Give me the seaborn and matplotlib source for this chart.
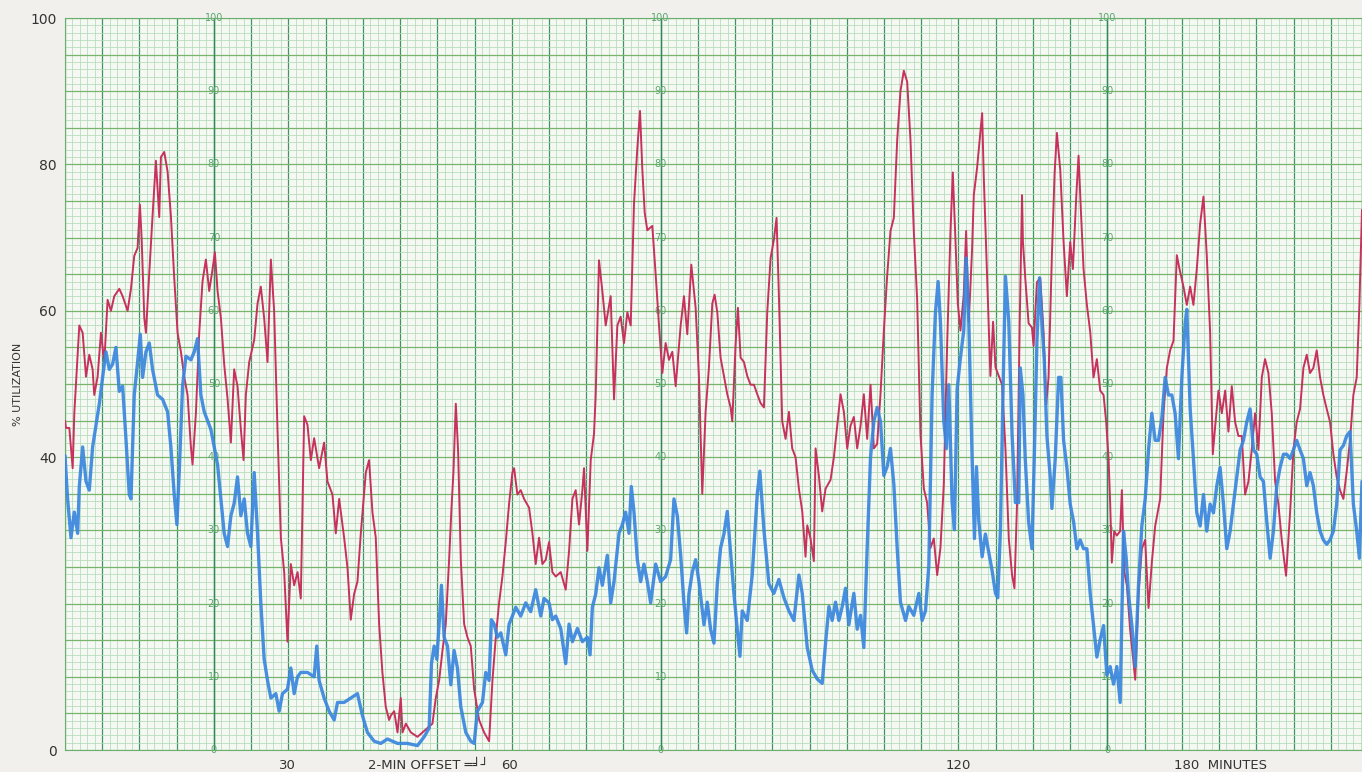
import numpy as np
import pandas as pd
import seaborn as sns
import matplotlib.pyplot as plt
from matplotlib.ticker import MultipleLocator, FuncFormatter

# Strip chart: two recorder pens, % utilization vs minutes
red_min = [
    0.0, 0.13, 0.58, 1.03, 1.25, 1.92, 2.37, 2.82, 3.26, 3.71,
    3.93, 4.38, 4.83, 5.28, 5.72, 6.17, 6.62, 7.29, 7.74, 8.41,
    8.86, 9.30, 9.75, 10.06, 10.29, 10.65, 10.87, 11.18, 11.76, 12.21,
    12.66, 12.88, 13.33, 13.78, 14.22, 14.67, 15.12, 15.57, 16.01, 16.46,
    16.91, 17.13, 17.58, 18.03, 18.47, 18.92, 19.37, 19.82, 20.13, 20.49,
    20.94, 21.38, 21.83, 22.28, 22.72, 23.17, 23.62, 23.98, 24.29, 24.74,
    25.41, 25.86, 26.30, 26.75, 27.20, 27.65, 28.09, 28.54, 28.99, 29.44,
    29.88, 30.33, 30.78, 31.23, 31.67, 32.12, 32.57, 33.02, 33.46, 34.13,
    34.80, 35.25, 35.92, 36.37, 36.82, 37.49, 37.94, 38.38, 38.83, 39.28,
    39.73, 40.40, 40.84, 41.29, 41.74, 42.19, 42.63, 43.08, 43.53, 43.76,
    44.21, 44.66, 45.10, 45.33, 45.78, 46.45, 47.34, 48.01, 48.68, 49.35,
    49.80, 50.25, 50.70, 51.14, 51.59, 51.91, 52.17, 52.49, 52.80, 53.16,
    53.61, 54.05, 54.50, 54.95, 55.62, 56.29, 56.96, 57.41, 57.86, 58.30,
    58.75, 59.20, 59.65, 60.09, 60.32, 60.76, 61.21, 61.66, 62.33, 62.78,
    63.22, 63.67, 64.12, 64.57, 65.01, 65.46, 65.91, 66.58, 67.25, 67.70,
    68.15, 68.59, 69.04, 69.49, 69.71, 70.16, 70.61, 71.05, 71.28, 71.50,
    71.72, 72.17, 72.62, 73.29, 73.74, 74.19, 74.63, 75.08, 75.53, 75.98,
    76.42, 76.87, 77.23, 77.54, 77.86, 78.21, 78.88, 79.33, 79.78, 80.23,
    80.67, 81.12, 81.57, 82.02, 82.69, 83.13, 83.58, 84.12, 84.70, 85.15,
    85.59, 86.04, 86.49, 86.94, 87.25, 87.61, 88.05, 88.50, 88.95, 89.40,
    89.62, 90.07, 90.38, 90.74, 91.19, 91.63, 92.08, 92.53, 92.98, 93.42,
    93.87, 94.32, 94.77, 95.21, 95.57, 95.88, 96.33, 96.78, 97.23, 97.67,
    98.12, 98.57, 99.02, 99.46, 99.69, 100.13, 100.58, 100.81, 101.25, 101.70,
    102.15, 102.82, 103.27, 103.71, 104.16, 104.61, 105.06, 105.50, 105.95, 106.40,
    106.85, 107.29, 107.74, 108.19, 108.64, 109.08, 109.53, 109.98, 110.42, 110.87,
    111.32, 111.77, 112.21, 112.66, 113.11, 113.56, 114.00, 114.45, 114.90, 115.35,
    115.79, 116.24, 116.69, 117.14, 117.58, 118.03, 118.48, 118.93, 119.24, 119.60,
    119.91, 120.27, 120.71, 121.03, 121.39, 121.83, 122.06, 122.50, 122.95, 123.18,
    123.40, 123.85, 124.29, 124.65, 124.97, 125.41, 125.86, 126.31, 126.76, 127.20,
    127.52, 127.87, 128.23, 128.54,
    128.66, 128.97, 129.42, 129.87, 130.09, 130.54, 130.98, 131.43, 131.79, 132.10,
    132.55, 132.91, 133.22, 133.67, 134.12, 134.56, 135.01, 135.37, 135.82, 136.13,
    136.44, 136.80, 137.25, 137.70, 138.14, 138.59, 139.04, 139.49, 139.84, 140.16,
    140.38, 140.60, 140.92, 141.27, 141.72, 141.95, 142.26, 142.62, 143.06, 143.51,
    143.74, 144.18, 144.63, 145.08, 145.53, 145.97, 146.42, 147.09, 147.54, 147.99,
    148.43, 148.88, 149.33, 149.69, 150.22, 150.67, 151.12, 151.56, 152.01, 152.46,
    152.91, 153.35, 153.80, 154.16, 154.47, 154.92, 155.37, 155.82, 156.26, 156.71,
    157.16, 157.60, 158.05, 158.50, 158.95, 159.39, 159.84, 160.29, 160.74, 161.18,
    161.63, 162.08, 162.53, 162.97, 163.42, 164.00, 164.54, 164.99, 165.43, 165.88,
    166.33, 166.78, 167.22, 167.67, 168.12, 168.57, 169.01, 169.46, 169.91, 170.36,
    170.80, 171.25, 171.70, 172.14, 172.59, 173.04, 173.49, 173.85, 174.20,
]
red_util = [
    45, 44, 44, 38.5, 46, 58, 57, 51, 54, 52,
    48.5, 51, 57, 53, 61.5, 60, 62, 63, 62, 60,
    63, 67.5, 68.6, 74.5, 70, 59, 57, 62.7, 73, 80.5,
    72.8, 81, 81.7, 79, 73, 64.5, 57, 54.4, 51, 48.5,
    41.4, 39, 46, 57, 64, 67, 62.7, 65.7, 68, 62.7,
    59, 52.7, 48, 42, 52, 49.7, 43.8, 39.6, 48.5, 53,
    56, 61, 63.3, 59, 53, 67, 60, 43.8, 29, 24.3,
    14.8, 25.4, 22.5, 24.3, 20.7, 45.6, 44.4, 39.6, 42.6, 38.5,
    42, 36.7, 34.9, 29.6, 34.3, 29, 24.9, 17.8, 21.3, 23,
    29.6, 37.9, 39.6, 32.5, 29, 17.2, 10.6, 5.9, 4.1, 4.7,
    5.3, 2.4, 7.1, 2.4, 3.6, 2.4, 1.8, 2.4, 3, 3.6,
    7.1, 9.5, 13.6, 17.2, 26, 33.1, 37.9, 47.3, 40.8, 26,
    17.2, 15.4, 14.2, 8.3, 4.1, 2.4, 1.2, 9.5, 15.4, 20.1,
    23.7, 28.4, 33.7, 37.9, 38.5, 34.9, 35.5, 34.3, 33.1, 29.6,
    25.4, 29, 25.4, 26, 28.4, 24.3, 23.7, 24.3, 21.9, 27.2,
    34.3, 35.5, 30.8, 35.5, 38.5, 27.2, 39.6, 43.2, 48.5, 58,
    66.9, 62.7, 58, 62, 47.9, 58, 59.2, 55.6, 59.8, 58,
    74.6, 82.2, 87.3, 79.3, 73.4, 71, 71.6, 65, 58, 51.5,
    55.6, 53.3, 54.4, 49.7, 58, 62, 56.8, 66.3, 60.4, 50.9,
    35, 46.2, 52.3, 61, 62.2, 59.8, 53.6, 51.1, 48.6, 46.8,
    44.9, 55.4, 60.4, 53.6, 53, 51.1, 49.9, 49.9, 48.6, 47.4,
    46.8, 59.8, 67.2, 69.7, 72.7, 62.2, 44.9, 42.5, 46.2, 41.2,
    40, 35.7, 32.6, 26.4, 30.7, 28.9, 25.8, 41.2, 37.5, 32.6,
    35.7, 36.9, 40, 44.3, 48.6, 46.2, 41.2, 44.3, 45.5, 41.2,
    44.3, 48.6, 42.5, 49.9, 41.2, 41.8, 48.6, 57.3, 64.7, 70.9,
    72.7, 83.3, 90, 92.8, 91.3, 83.3, 70.9, 61.6, 43.1, 35.7,
    33.8, 27.6, 28.9, 23.9, 27.6, 36.3, 55.4, 70.9, 78.9, 69.6,
    61, 57.3, 62.2, 70.9, 58.5, 68.4, 75.8, 79.5, 84.5, 87,
    78.3, 64.7, 51.1, 58.5, 52.3, 51.1, 49.9, 41.2, 28.9, 23.9,
    22.1, 33.8, 58.5, 75.8,
    69.4, 64.5, 58.3, 57.7, 55.2, 63.9, 64.5, 57.1, 47.2, 50.9,
    67.6, 78.7, 84.3, 79.3, 69.4, 62, 69.4, 65.7, 75.6, 81.2,
    73.8, 65.7, 60.8, 57.1, 50.9, 53.4, 49.1, 48.5, 44.8, 39.8,
    33.6, 25.6, 29.9, 29.3, 29.9, 35.5, 24.4, 22.5, 16.4, 12,
    9.6, 21.3, 27.5, 28.7, 19.4, 25.6, 30.6, 34.3, 46, 52.2,
    54.6, 55.9, 67.6, 65.7, 63.3, 60.8, 63.3, 60.8, 65.7, 71.9,
    75.6, 67.6, 57.1, 40.4, 44.1, 49.1, 46, 49.1, 43.5, 49.7,
    44.8, 42.9, 42.9, 34.9, 36.7, 41, 46, 41, 50.9, 53.4,
    51.5, 46, 36.7, 33.6, 28.7, 23.8, 32.4, 41, 44.8, 46.6,
    52.2, 54, 51.5, 52.2, 54.6, 50.9, 48.5, 46.6, 44.8, 40.4,
    37.3, 35.5, 34.3, 38, 42.3, 48.5, 50.9, 60.8, 73.8,
]

blue_min = [
    0.0, 0.35, 0.80, 1.25, 1.70, 1.92, 2.37, 2.82, 3.26, 3.71,
    4.16, 4.61, 5.05, 5.50, 5.95, 6.39, 6.84, 7.29, 7.74, 8.18,
    8.63, 8.86, 9.30, 9.75, 10.11, 10.42, 10.87, 11.32, 11.76, 12.43,
    13.11, 13.78, 14.22, 14.67, 15.03, 15.34, 15.79, 16.24, 16.91, 17.36,
    17.80, 18.25, 18.70, 19.15, 19.59, 20.04, 20.49, 20.94, 21.38, 21.83,
    22.28, 22.72, 23.17, 23.62, 24.07, 24.51, 24.96, 25.41, 25.86, 26.30,
    26.75, 27.20, 27.65, 28.32, 28.76, 29.21, 29.88, 30.33, 30.78, 31.23,
    31.67, 32.57, 33.46, 33.82, 34.13, 34.80, 35.48, 36.15, 36.60, 37.49,
    38.38, 39.28, 39.95, 40.62, 41.52, 42.41, 43.30,
    44.66, 46.00, 47.34, 48.24, 48.91, 49.22, 49.58, 49.94, 50.25, 50.56,
    50.92, 51.37, 51.82, 52.26, 52.71, 53.16, 53.83, 54.50, 54.95, 55.39,
    56.07, 56.51, 56.96, 57.27, 57.63, 58.08, 58.53, 59.20, 59.65, 60.09,
    60.54, 61.21, 61.88, 62.55, 63.22, 63.90, 64.34, 65.01, 65.46, 65.91,
    66.58, 67.25, 67.70, 68.15, 68.82, 69.49, 70.16, 70.52, 70.83, 71.28,
    71.72, 72.17, 72.84, 73.29, 73.74, 74.41, 74.86, 75.30, 75.75, 76.06,
    76.42, 76.87, 77.32, 77.76, 78.21, 78.66, 79.33, 80.00, 80.67, 81.34,
    81.79, 82.24, 82.69, 83.13, 83.49, 83.80, 84.25, 84.70, 85.15,
    85.82, 86.26, 86.71, 87.16, 87.61, 88.05, 88.50, 88.95, 89.40, 89.84,
    90.29, 90.65, 90.96, 91.63, 92.30, 92.98, 93.33, 93.87, 94.54, 95.21,
    95.88, 96.56, 97.23, 97.90, 98.57, 99.02, 99.69, 100.36, 101.03, 101.70,
    102.15, 102.60, 103.04, 103.49, 103.94, 104.39, 104.83, 105.28, 105.95, 106.40,
    106.85, 107.29, 107.74, 108.19, 108.64, 109.08, 109.53, 109.98, 110.42, 110.87,
    111.32, 111.77, 112.21, 112.89, 113.33, 114.00, 114.68, 115.12, 115.57, 116.02,
    116.46, 116.91, 117.27, 117.58, 118.03, 118.39, 118.70, 119.15, 119.46, 119.82,
    120.27, 120.71, 121.03, 121.39, 121.83, 122.15, 122.42, 122.73, 123.18, 123.62,
    124.07, 124.52, 124.97, 125.28, 125.64, 125.99, 126.31, 126.76, 127.20, 127.65,
    128.10, 128.30,
    128.66, 128.97, 129.42, 129.87, 130.18, 130.54, 130.89, 131.21, 131.52, 131.88,
    132.33, 132.55, 133.00, 133.45, 133.76, 134.12, 134.56, 135.01, 135.46, 135.91,
    136.35, 136.80, 137.25, 137.70, 138.14, 138.59, 139.04, 139.49, 139.93, 140.38,
    140.83, 141.27, 141.72, 142.17, 142.53, 142.84, 143.29, 143.74, 144.18, 144.63,
    145.08, 145.53, 145.97, 146.42, 146.87, 147.32, 147.76, 148.21, 148.66, 149.10,
    149.55, 150.00, 150.45, 150.67, 151.12, 151.56, 152.01, 152.46, 152.91, 153.35,
    153.80, 154.25, 154.70, 155.14, 155.59, 156.04, 156.49, 156.93, 157.38, 157.83,
    158.28, 158.72, 159.17, 159.62, 160.07, 160.51, 160.96, 161.41, 161.86, 162.30,
    162.75, 163.20, 163.65, 164.09, 164.54, 164.99, 165.43, 165.88, 166.33, 166.78,
    167.22, 167.67, 168.12, 168.57, 169.01, 169.46, 169.91, 170.36, 170.80, 171.25,
    171.70, 172.14, 172.59, 173.04, 173.49, 173.85, 174.20,
]
blue_util = [
    40.2, 34.3, 29, 32.5, 29.6, 36, 41.4, 36.7, 35.5, 41.4,
    44.4, 47.3, 50.9, 54.4, 52, 52.7, 55, 49, 49.7, 42.6,
    34.9, 34.3, 48.5, 53, 56.8, 50.9, 54.4, 55.6, 52, 48.5,
    47.9, 46.2, 41.4, 34.9, 30.8, 37.9, 49.7, 53.8, 53.3, 54.4,
    56.2, 48.5, 46.2, 45, 43.8, 41.4, 39, 34.3, 29.6, 27.8,
    32, 33.7, 37.3, 32, 34.3, 29.6, 27.8, 37.9, 29.6, 20.1,
    12.4, 9.5, 7.1, 7.7, 5.3, 7.7, 8.3, 11.2, 7.7, 10,
    10.6, 10.6, 10, 14.2, 9.5, 7.1, 5.3, 4.1, 6.5, 6.5,
    7.1, 7.7, 4.7, 2.4, 1.2, 0.9, 1.5,
    0.9, 0.9, 0.6, 1.8, 3, 11.8, 14.2, 12.4, 17.2, 22.5,
    15.4, 14.2, 8.9, 13.6, 11.2, 5.9, 2.4, 1.2, 0.9, 5.3,
    6.5, 10.6, 9.5, 17.8, 17.2, 15.4, 16, 13, 17.2, 18.3,
    19.5, 18.3, 20.1, 18.9, 21.9, 18.3, 20.7, 20.1, 17.8, 18.3,
    16.6, 11.8, 17.2, 14.8, 16.6, 14.8, 15.4, 13, 19.5, 21.3,
    24.9, 22.5, 26.6, 20.1, 23, 29.6, 30.8, 32.5, 29.6, 36,
    32.5, 26, 23, 25.4, 23, 20.1, 25.4, 23, 23.7, 26,
    34.3, 32, 26.6, 20.1, 16, 21.3, 24.3, 26, 23,
    17.1, 20.2, 16.5, 14.6, 22.7, 27.6, 29.5, 32.6, 27, 21.4,
    16.5, 12.8, 19, 17.7, 23.9, 35, 38.1, 30.1, 22.7, 21.4,
    23.3, 20.8, 19, 17.7, 23.9, 21.4, 14, 10.9, 9.7, 9.1,
    14.6, 19.6, 17.7, 20.2, 17.7, 19.6, 22.1, 17.1, 21.4, 16.5,
    18.4, 14, 27.6, 40, 44.9, 46.8, 44.9, 37.5, 38.7, 41.2,
    36.3, 27.6, 20.2, 17.7, 19.6, 18.4, 21.4, 17.7, 19, 25.2,
    48.6, 59.8, 64, 58.5, 44.9, 41.2, 49.9, 33.8, 30.1, 49.3,
    53.6, 57.3, 67.2, 58.5, 40, 28.9, 38.7, 31.3, 26.4, 29.5,
    27, 24.5, 21.4, 20.8, 30.1, 49.3, 64.7, 58.5, 43.1, 33.8,
    33.8, 52.2,
    48.5, 39.8, 31.2, 27.5, 39.8, 55.9, 64.5, 58.3, 53.4, 42.9,
    37.3, 33, 39.8, 50.9, 50.9, 42.3, 38.6, 33.6, 31.2, 27.5,
    28.7, 27.5, 27.5, 21.3, 17, 12.7, 15.1, 17, 10.2, 11.4,
    9, 11.4, 6.5, 29.9, 26.2, 21.3, 17, 11.4, 22.5, 30.6,
    34.3, 41, 46, 42.3, 42.3, 45.4, 50.9, 48.5, 48.5, 46,
    39.8, 50.9, 58.3, 60.2, 46.6, 39.8, 32.4, 30.6, 34.9, 29.9,
    33.6, 32.4, 36.1, 38.6, 33.6, 27.5, 29.9, 33.6, 37.3, 41,
    42.3, 44.8, 46.6, 41, 40.4, 37.3, 36.7, 31.2, 26.2, 29.9,
    36.1, 38.6, 40.4, 40.4, 39.8, 41, 42.3, 41, 39.8, 36.1,
    37.9, 36.1, 32.4, 29.9, 28.7, 28.1, 28.7, 29.9, 33.6, 41,
    41.6, 42.9, 43.5, 33.6, 29.9, 26.2, 36.7,
]

ytick_labels = {0: "0", 40: "40", 60: "60", 80: "80", 100: "100"}
scale_minutes = [20, 80, 140]          # where the printed paper scale repeats
scale_values = list(range(0, 101, 10))

sns.set_theme(style="white")
plt.rcParams["font.family"] = ["DejaVu Sans"]

fig = plt.figure(figsize=(13.62, 7.72), dpi=100, facecolor="#f1f0ec")
ax = fig.add_axes([65 / 1362, 22 / 772, 1297 / 1362, 732 / 772])
ax.set_facecolor("#f6f9f3")

red_df = pd.DataFrame({"minute": red_min, "util": red_util})
blue_df = pd.DataFrame({"minute": blue_min, "util": blue_util})

sns.lineplot(data=red_df, x="minute", y="util", ax=ax, color="#c7315d",
             lw=1.4, estimator=None, sort=False, zorder=4)
sns.lineplot(data=blue_df, x="minute", y="util", ax=ax, color="#3a86df",
             lw=2.4, alpha=0.92, estimator=None, sort=False, zorder=5)

ax.set_xlim(0, 174.2)
ax.set_ylim(0, 100)

# chart paper grid
ax.xaxis.set_major_locator(MultipleLocator(5))
ax.xaxis.set_minor_locator(MultipleLocator(1))
ax.yaxis.set_major_locator(MultipleLocator(5))
ax.yaxis.set_minor_locator(MultipleLocator(1))
ax.set_axisbelow(True)
ax.grid(which="minor", color="#b3dbb9", lw=0.55)
ax.grid(which="major", axis="x", color="#3f9663", lw=0.9)
ax.grid(which="major", axis="y", color="#78b46c", lw=0.9)
for m in scale_minutes:
    ax.axvline(m, color="#2f8a57", lw=1.0, zorder=1)
    for v in scale_values:
        ax.text(m, v, str(v), color="#5aa56e", fontsize=7, ha="center",
                va="center", zorder=2, clip_on=False)

ax.xaxis.set_major_formatter(FuncFormatter(lambda v, p: ""))
ax.yaxis.set_major_formatter(
    FuncFormatter(lambda v, p: ytick_labels.get(int(round(v)), "")))
ax.tick_params(which="both", length=0)
ax.tick_params(axis="y", pad=6, labelsize=10, labelcolor="#333333")
for s in ax.spines.values():
    s.set_color("#6aae70")
    s.set_linewidth(0.8)
ax.set_xlabel("")
ax.set_ylabel("")

fig.text(18 / 1362, 1 - 384 / 772, "% UTILIZATION", rotation=90, fontsize=8,
         ha="center", va="center", color="#333333")

xt = ax.get_xaxis_transform()
lab = dict(transform=xt, fontsize=9.5, color="#333333", va="center", clip_on=False)
ax.text(29.9, -0.021, "30", ha="center", **lab)
ax.text(56.9, -0.021, "2-MIN OFFSET ═╛┘", ha="right", **lab)
ax.text(59.7, -0.021, "60", ha="center", **lab)
ax.text(120, -0.021, "120", ha="center", **lab)
ax.text(148.9, -0.021, "180  MINUTES", ha="left", **lab)

fig.savefig("out.png", dpi=100, facecolor=fig.get_facecolor())
